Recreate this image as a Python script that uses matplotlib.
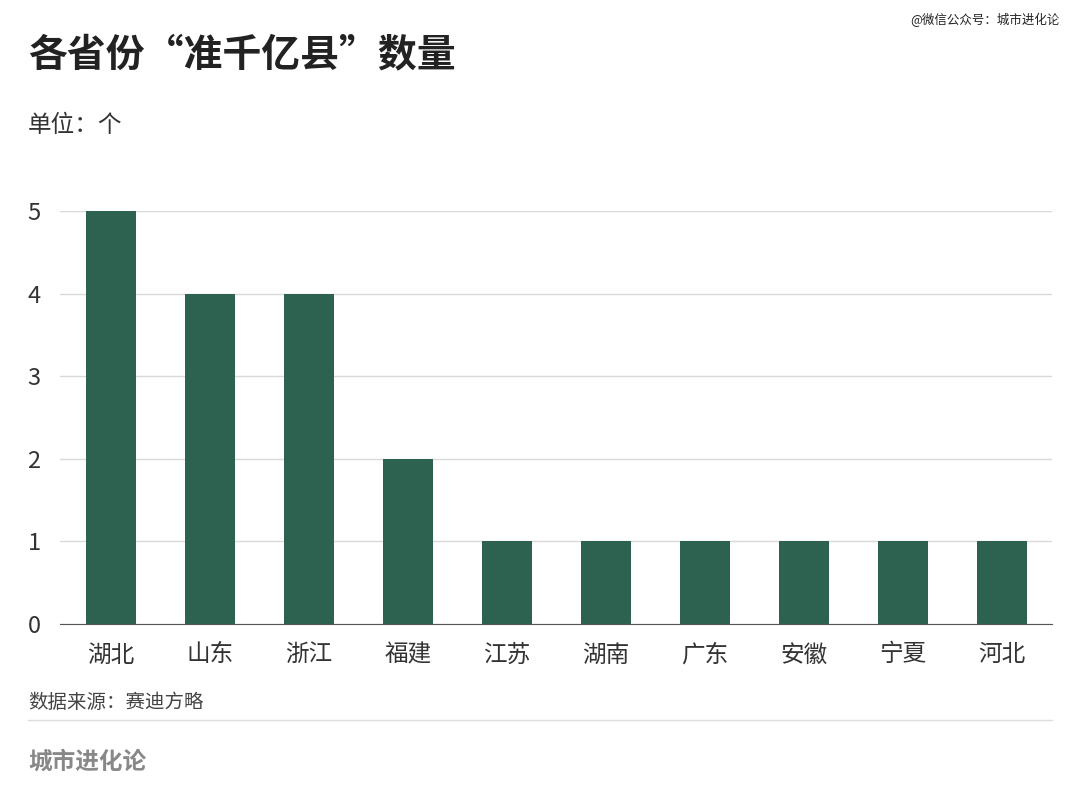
import matplotlib.pyplot as plt
import matplotlib.lines as mlines

plt.rcParams['font.family'] = 'Noto Sans CJK SC'

# data
provinces = ['湖北', '山东', '浙江', '福建', '江苏', '湖南', '广东', '安徽', '宁夏', '河北']
counts = [5, 4, 4, 2, 1, 1, 1, 1, 1, 1]
y_ticks = [0, 1, 2, 3, 4, 5]

bar_color = '#2d6150'

fig = plt.figure(figsize=(10.8, 8.1), dpi=100)
ax = fig.add_axes([60 / 1080, 1 - 624 / 810, 992 / 1080, 413 / 810])

x = range(len(provinces))
ax.bar(x, counts, width=0.5, color=bar_color, zorder=3)
ax.set_xlim(-0.515, 9.505)
ax.set_ylim(0, 5)
ax.set_yticks(y_ticks)
ax.set_xticks(list(x))
ax.set_xticklabels(provinces)
ax.tick_params(axis='both', length=0, labelsize=17, colors='#333333')
ax.tick_params(axis='y', pad=14)
ax.tick_params(axis='x', pad=14)
ax.grid(axis='y', color='#d9d9d9', linewidth=1, zorder=0)
for s in ['top', 'right', 'left']:
    ax.spines[s].set_visible(False)
ax.spines['bottom'].set_color('#555555')
ax.spines['bottom'].set_zorder(4)

# texts
fig.text(28 / 1080, 1 - 55 / 810, '各省份“准千亿县”数量', fontsize=28, fontweight='bold',
         color='#222222', va='center')
fig.text(28 / 1080, 1 - 125 / 810, '单位：个', fontsize=17, color='#333333', va='center')
fig.text(1060 / 1080, 1 - 20 / 810, '@微信公众号：城市进化论', fontsize=9, color='#222222',
         ha='right', va='center')
fig.text(28 / 1080, 1 - 702 / 810, '数据来源：赛迪方略', fontsize=14, color='#444444', va='center')
fig.add_artist(mlines.Line2D([28 / 1080, 1052 / 1080], [1 - 720 / 810, 1 - 720 / 810],
                             color='#dddddd', linewidth=1))
fig.text(28 / 1080, 1 - 762 / 810, '城市进化论', fontsize=17, fontweight='bold',
         color='#888888', va='center')

fig.savefig('out.png', dpi=100)
